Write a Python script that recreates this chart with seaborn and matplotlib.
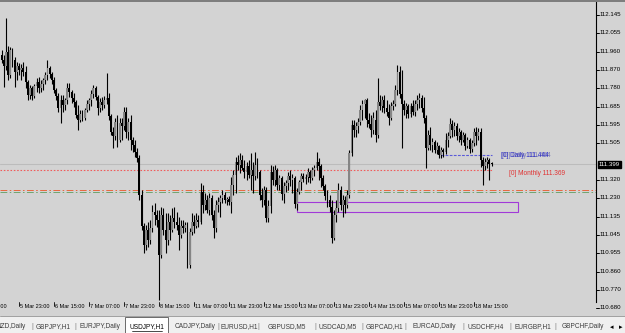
import matplotlib
matplotlib.use("Agg")
import matplotlib.pyplot as plt
import matplotlib.transforms as mtransforms
from matplotlib.patches import Rectangle
import numpy as np
import pandas as pd
import seaborn as sns

# ---------------- data (USDJPY H1) ----------------
open_ = [111.945,111.920,111.890,111.960,111.845,111.970,111.920,111.860,111.890,111.870,
         111.880,111.860,111.810,111.745,111.780,111.740,111.790,111.810,111.780,111.800,
         111.820,111.845,111.880,111.850,111.820,111.770,111.740,111.680,111.720,111.695,
         111.720,111.780,111.760,111.730,111.710,111.645,111.620,111.650,111.630,111.670,
         111.700,111.720,111.750,111.780,111.735,111.680,111.710,111.695,111.720,111.730,
         111.640,111.560,111.540,111.610,111.520,111.605,111.590,
         111.660,111.560,111.610,111.520,111.495,111.460,111.430,111.245,111.090,110.995,
         111.070,111.020,111.080,111.160,111.145,111.120,110.945,111.145,111.070,111.020,
         111.110,111.070,111.130,111.110,111.095,111.045,111.090,111.080,111.095,110.895,
         111.060,111.110,111.090,111.120,111.110,111.260,111.195,111.220,111.170,111.230,
         111.145,111.080,111.195,111.210,111.230,111.245,111.220,111.225,111.210,111.295,
         111.345,111.410,111.395,111.420,111.380,111.360,111.390,
         111.345,111.370,111.340,111.395,111.360,111.245,111.220,111.270,111.130,111.190,
         111.360,111.320,111.370,111.295,111.330,111.250,111.290,111.305,111.340,111.320,
         111.330,111.200,111.260,111.310,111.340,111.325,111.335,111.360,111.330,111.370,
         111.380,111.410,111.390,111.330,111.290,111.240,111.220,111.185,111.030,111.145,
         111.180,111.270,111.195,111.220,111.195,111.245,111.455,111.595,111.570,111.590,
         111.610,111.670,111.700,111.720,111.620,111.600,111.570,
         111.620,111.545,111.710,111.690,111.720,111.680,111.660,111.630,111.690,111.700,
         111.770,111.860,111.750,111.700,111.670,111.690,111.650,111.690,111.660,111.700,
         111.720,111.730,111.680,111.630,111.480,111.545,111.495,111.510,111.470,111.490,
         111.445,111.470,111.460,111.520,111.540,111.600,111.570,111.590,111.540,111.560,
         111.520,111.545,111.490,111.520,111.475,111.505,111.560,111.540,111.560,111.420,
         111.390,111.410,111.420,111.400]
high = [111.970,111.945,112.130,111.990,111.985,111.980,111.935,111.910,111.905,111.900,
        111.910,111.890,111.820,111.795,111.790,111.800,111.830,111.835,111.820,111.830,
        111.860,111.920,111.890,111.860,111.835,111.780,111.755,111.745,111.745,111.730,
        111.805,111.805,111.770,111.755,111.720,111.695,111.670,111.670,111.680,111.720,
        111.730,111.770,111.795,111.790,111.745,111.730,111.735,111.740,111.855,111.755,
        111.650,111.585,111.630,111.645,111.630,111.630,111.685,
        111.685,111.630,111.645,111.535,111.520,111.480,111.445,111.270,111.105,111.095,
        111.110,111.120,111.195,111.205,111.170,111.170,111.185,111.180,111.155,111.155,
        111.145,111.180,111.185,111.160,111.135,111.120,111.120,111.110,111.110,111.080,
        111.155,111.145,111.155,111.145,111.305,111.295,111.255,111.245,111.255,111.245,
        111.170,111.220,111.235,111.245,111.270,111.260,111.235,111.240,111.335,111.370,
        111.435,111.445,111.455,111.445,111.420,111.410,111.420,
        111.455,111.410,111.460,111.430,111.370,111.280,111.290,111.285,111.220,111.395,
        111.390,111.395,111.380,111.345,111.340,111.310,111.320,111.360,111.370,111.350,
        111.340,111.280,111.320,111.355,111.355,111.350,111.380,111.370,111.385,111.395,
        111.460,111.430,111.400,111.345,111.300,111.270,111.245,111.220,111.170,111.220,
        111.305,111.290,111.245,111.240,111.270,111.470,111.620,111.620,111.610,111.630,
        111.695,111.720,111.725,111.730,111.655,111.645,111.660,
        111.670,111.830,111.745,111.740,111.745,111.720,111.700,111.710,111.720,111.795,
        111.895,111.890,111.870,111.720,111.705,111.700,111.705,111.720,111.720,111.745,
        111.755,111.745,111.735,111.645,111.570,111.585,111.530,111.520,111.510,111.495,
        111.485,111.480,111.555,111.560,111.630,111.620,111.610,111.605,111.580,111.570,
        111.560,111.555,111.535,111.530,111.520,111.580,111.585,111.580,111.580,111.435,
        111.430,111.435,111.430,111.410]
low = [111.905,111.785,111.870,111.820,111.830,111.885,111.785,111.820,111.845,111.820,
       111.840,111.780,111.720,111.725,111.720,111.730,111.760,111.755,111.760,111.770,
       111.800,111.820,111.830,111.800,111.755,111.720,111.660,111.605,111.660,111.670,
       111.700,111.735,111.705,111.685,111.630,111.570,111.610,111.615,111.620,111.660,
       111.670,111.690,111.730,111.720,111.645,111.660,111.670,111.680,111.700,111.620,
       111.545,111.480,111.520,111.485,111.510,111.520,111.570,
       111.530,111.520,111.470,111.460,111.435,111.410,111.220,111.070,110.955,110.970,
       110.985,111.000,111.060,111.095,111.085,110.720,110.930,111.045,110.955,110.995,
       111.020,111.060,111.080,111.070,110.970,111.030,111.055,111.060,110.880,110.880,
       111.045,111.055,111.080,111.085,111.100,111.155,111.170,111.155,111.145,111.120,
       111.030,111.060,111.160,111.135,111.205,111.205,111.195,111.195,111.155,111.245,
       111.255,111.370,111.355,111.370,111.330,111.320,111.330,
       111.270,111.255,111.320,111.330,111.220,111.185,111.195,111.110,111.110,111.155,
       111.295,111.290,111.270,111.270,111.220,111.205,111.260,111.270,111.290,111.255,
       111.180,111.170,111.250,111.270,111.310,111.300,111.310,111.305,111.320,111.340,
       111.370,111.320,111.285,111.270,111.220,111.185,111.160,111.005,111.020,111.110,
       111.160,111.170,111.135,111.155,111.180,111.230,111.440,111.535,111.535,111.555,
       111.595,111.620,111.630,111.585,111.580,111.535,111.550,
       111.510,111.530,111.670,111.660,111.655,111.640,111.595,111.620,111.670,111.690,
       111.745,111.730,111.480,111.645,111.630,111.630,111.635,111.645,111.640,111.670,
       111.680,111.660,111.605,111.380,111.470,111.470,111.460,111.455,111.450,111.430,
       111.430,111.435,111.450,111.485,111.530,111.535,111.540,111.520,111.510,111.495,
       111.510,111.470,111.480,111.455,111.460,111.490,111.495,111.520,111.385,111.295,
       111.370,111.380,111.320,111.390]
close = [111.920,111.890,111.960,111.845,111.970,111.920,111.860,111.890,111.870,111.880,
         111.860,111.810,111.745,111.780,111.740,111.790,111.810,111.780,111.800,111.820,
         111.845,111.880,111.850,111.820,111.770,111.740,111.680,111.720,111.695,111.720,
         111.780,111.760,111.730,111.710,111.645,111.620,111.650,111.630,111.670,111.700,
         111.720,111.750,111.780,111.735,111.680,111.710,111.695,111.720,111.730,111.640,
         111.560,111.540,111.610,111.520,111.605,111.590,111.660,
         111.560,111.610,111.520,111.495,111.460,111.430,111.245,111.090,110.995,111.070,
         111.020,111.080,111.160,111.145,111.120,110.945,111.145,111.070,111.020,111.110,
         111.070,111.130,111.110,111.095,111.045,111.090,111.080,111.095,110.895,111.060,
         111.110,111.090,111.120,111.110,111.260,111.195,111.220,111.170,111.230,111.145,
         111.080,111.195,111.210,111.230,111.245,111.220,111.225,111.210,111.295,111.345,
         111.410,111.395,111.420,111.380,111.360,111.390,111.345,
         111.370,111.340,111.395,111.360,111.245,111.220,111.270,111.130,111.190,111.360,
         111.320,111.370,111.295,111.330,111.250,111.290,111.305,111.340,111.320,111.330,
         111.200,111.260,111.310,111.340,111.325,111.335,111.360,111.330,111.370,111.380,
         111.410,111.390,111.330,111.290,111.240,111.220,111.185,111.030,111.145,111.180,
         111.270,111.195,111.220,111.195,111.245,111.455,111.595,111.570,111.590,111.610,
         111.670,111.700,111.720,111.620,111.600,111.570,111.630,
         111.545,111.710,111.690,111.720,111.680,111.660,111.630,111.690,111.700,111.770,
         111.860,111.750,111.700,111.670,111.690,111.650,111.690,111.660,111.700,111.720,
         111.730,111.680,111.630,111.480,111.545,111.495,111.510,111.470,111.490,111.445,
         111.470,111.460,111.520,111.540,111.600,111.570,111.590,111.540,111.560,111.520,
         111.545,111.490,111.520,111.475,111.505,111.560,111.540,111.560,111.420,111.390,
         111.410,111.420,111.400,111.399]

price_ticks = [112.145, 112.055, 111.960, 111.870, 111.780, 111.685, 111.595, 111.505,
               111.320, 111.230, 111.135, 111.045, 110.955, 110.860, 110.770, 110.680]
time_labels = ["5 Mar 07:00", "5 Mar 23:00", "6 Mar 15:00", "7 Mar 07:00", "7 Mar 23:00",
               "8 Mar 15:00", "11 Mar 07:00", "11 Mar 23:00", "12 Mar 15:00", "13 Mar 07:00",
               "13 Mar 23:00", "14 Mar 15:00", "15 Mar 07:00", "15 Mar 23:00", "18 Mar 15:00"]
time_label_bars = [-8, 8, 24, 40, 56, 72, 88, 104, 120, 136, 152, 168, 184, 200, 216]
tabs = ["NZD,Daily", "GBPJPY,H1", "EURJPY,Daily", "USDJPY,H1", "CADJPY,Daily", "EURUSD,H1",
        "GBPUSD,M5", "USDCAD,M5", "GBPCAD,H1", "EURCAD,Daily", "USDCHF,H4", "EURGBP,H1",
        "GBPCHF,Daily"]
active_tab = "USDJPY,H1"

bid_price = 111.399
monthly_level = 111.369
daily_level = 111.444
daily_level_2 = 111.464
orange_level = 111.272
green_level = 111.260
zone_low, zone_high = 111.160, 111.210
zone_first_bar, zone_last_bar = 135, 236
daily_first_bar = 201

# ---------------- style ----------------
sns.set_theme(style="white")
plt.rcParams['font.family'] = ['Liberation Sans', 'DejaVu Sans']

BG = '#d3d3d3'
W, H = 625, 333
fig = plt.figure(figsize=(W / 100, H / 100), dpi=100, facecolor=BG)

# plot area: x 0..596 px, y 2..302 px
ax_left, ax_right, ax_top, ax_bot = 0, 596, 2, 302
ax = fig.add_axes([ax_left / W, 1 - ax_bot / H, (ax_right - ax_left) / W, (ax_bot - ax_top) / H])
ax.set_facecolor(BG)

px_per_bar = 2.1875
first_bar_px = 1.5
ax.set_xlim((ax_left - first_bar_px) / px_per_bar, (ax_right - first_bar_px) / px_per_bar)
ax.set_ylim(110.71, 112.21)

df = pd.DataFrame({'open': open_, 'high': high, 'low': low, 'close': close})
df['bar'] = np.arange(len(df))
df['up'] = df['close'] >= df['open']

# wicks
ax.vlines(df['bar'], df['low'], df['high'], color='black', lw=0.8, zorder=3)
# bodies
body_bottom = df[['open', 'close']].min(axis=1)
body_h = (df['close'] - df['open']).abs().clip(lower=0.004)
colors = np.where(df['up'], '#858585', '#000000')
ax.bar(df['bar'], body_h, bottom=body_bottom, width=0.82, color=colors, linewidth=0, zorder=4)

# horizontal levels
last_bar = df['bar'].iloc[-1]
ax.axhline(bid_price, color='#bcbcbc', lw=0.75, zorder=1)
ax.hlines(monthly_level, ax.get_xlim()[0], last_bar + 0.3, color='#f05a5a', lw=0.8,
          linestyle=(0, (1.4, 1.6)), zorder=2)
ax.hlines(daily_level, daily_first_bar, last_bar + 0.3, color='#5a5ad8', lw=0.8,
          linestyle=(0, (2.5, 1.2)), zorder=2)
ax.axhline(orange_level, color='#e8673e', lw=0.7, linestyle=(0, (7, 2.5, 1.6, 2.5)), zorder=2)
ax.axhline(green_level, color='#6fa56f', lw=0.7, linestyle=(0, (7, 2.5, 1.6, 2.5)), zorder=2)
ax.add_patch(Rectangle((zone_first_bar, zone_low), zone_last_bar - zone_first_bar,
                       zone_high - zone_low, fill=False, edgecolor='#a13ad8', lw=0.8, zorder=2))

# level labels (two labels drawn on top of each other, as in the terminal)
ax.text(228.3, daily_level_2 - 0.020, "[0] Daily 111.444", color='#2a2ad0', fontsize=4.7,
        va='center', ha='left', zorder=5)
ax.text(228.9, daily_level_2 - 0.020, "[D] Daily 111.464", color='#3838a0', fontsize=4.7,
        va='center', ha='left', zorder=5, alpha=0.6)
ax.text(232.0, monthly_level - 0.015, "[0] Monthly 111.369", color='#e03232', fontsize=4.7,
        va='center', ha='left', zorder=5)

# spines
for s in ['top', 'left', 'bottom']:
    ax.spines[s].set_visible(False)
ax.spines['right'].set_color('black')
ax.spines['right'].set_linewidth(0.8)
ax.set_xticks([])
ax.set_yticks([])

# right price scale
blend_y = mtransforms.blended_transform_factory(ax.transAxes, ax.transData)
tick_len = 2.5 / (ax_right - ax_left)
for p in price_ticks:
    ax.plot([1.0, 1.0 + tick_len], [p, p], color='black', lw=0.7, transform=blend_y, clip_on=False)
    ax.text(1.0 + 4 / (ax_right - ax_left), p, f"{p:.3f}", transform=blend_y, fontsize=4.4,
            va='center', ha='left', color='black', clip_on=False)
ax.text(1.0 + 3 / (ax_right - ax_left), bid_price, f"{bid_price:.3f}", transform=blend_y,
        fontsize=4.4, va='center', ha='left', color='white', clip_on=False,
        bbox=dict(facecolor='black', edgecolor='black', pad=0.6))

# time scale
blend_x = mtransforms.blended_transform_factory(ax.transData, fig.transFigure)
y_lab = 1 - 306 / H
for b, lab in zip(time_label_bars, time_labels):
    ax.plot([b, b], [1 - 302 / H, 1 - 306 / H], color='black', lw=0.6, transform=blend_x, clip_on=False)
    shift = -3.2 if b < 0 else 0.5
    ax.text(b + shift, y_lab, lab, transform=blend_x, fontsize=4.0, va='center', ha='left',
            color='black', clip_on=False)

# top border
fig.add_artist(plt.Line2D([0, 1], [1 - 0.5 / H, 1 - 0.5 / H], color='#6e6e6e', lw=1.2,
                          transform=fig.transFigure))

# tab bar
tab_top = 316
fig.add_artist(Rectangle((0, 0), 1, (H - tab_top) / H, transform=fig.transFigure,
                         facecolor='#f0f0f0', edgecolor='none'))
fig.add_artist(plt.Line2D([0, 1], [(H - tab_top) / H] * 2, color='#a0a0a0', lw=0.7,
                          transform=fig.transFigure))
tab_centers = [11, 53, 100, 147, 195, 239, 287, 338, 384, 434, 486, 533, 583]
separators = [32, 75, 218, 258, 315, 362, 405, 463, 510, 555]
y_tab = 1 - 327 / H
for cx, name in zip(tab_centers, tabs):
    if name == active_tab:
        fig.add_artist(Rectangle((125 / W, 0), 43 / W, (H - 317) / H, transform=fig.transFigure,
                                 facecolor='white', edgecolor='#6a6a6a', lw=0.7))
        fig.text(cx / W, y_tab, name, fontsize=4.7, color='black', ha='center', va='center')
        fig.add_artist(plt.Line2D([(cx - 15) / W, (cx + 15) / W], [1 - 331 / H] * 2,
                                  color='black', lw=0.5, transform=fig.transFigure))
    else:
        fig.text(cx / W, y_tab, name, fontsize=4.7, color='#3c3c3c', ha='center', va='center')
for sx in separators:
    fig.text(sx / W, y_tab, "|", fontsize=4.7, color='#7a7a7a', ha='center', va='center')
fig.text(612 / W, y_tab, "◂", fontsize=5, color='black', ha='center', va='center',
         family='DejaVu Sans')
fig.text(621 / W, y_tab, "▸", fontsize=5, color='black', ha='center', va='center',
         family='DejaVu Sans')

fig.savefig("out.png", dpi=100, facecolor=BG)
